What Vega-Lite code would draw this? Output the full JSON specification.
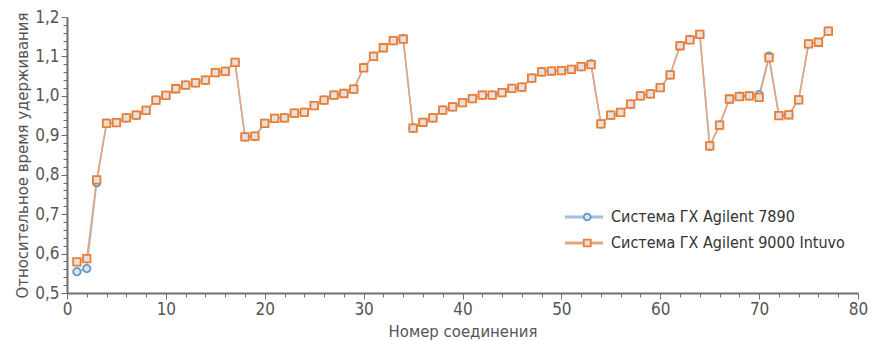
{
  "$schema": "https://vega.github.io/schema/vega-lite/v6.json",
  "width": 791,
  "height": 276,
  "autosize": {"type": "none"},
  "padding": {"left": 67, "top": 17, "right": 13, "bottom": 48},
  "background": "white",
  "config": {
    "view": {"stroke": null},
    "font": "Liberation Sans Narrow, DejaVu Sans Condensed, sans-serif",
    "axis": {
      "grid": false,
      "domainColor": "#6e6e6e",
      "domainWidth": 2,
      "tickColor": "#6e6e6e",
      "tickWidth": 1,
      "labelFont": "Liberation Sans Narrow, DejaVu Sans Condensed, sans-serif",
      "labelFontSize": 17,
      "labelColor": "#555555",
      "titleFont": "Liberation Sans Narrow, DejaVu Sans Condensed, sans-serif",
      "titleFontSize": 16.6,
      "titleFontWeight": "normal",
      "titleColor": "#555555"
    }
  },
  "data": {
    "values": [
      {"n": 1, "gc7890": 0.554, "intuvo": 0.579},
      {"n": 2, "gc7890": 0.562, "intuvo": 0.587},
      {"n": 3, "gc7890": 0.780, "intuvo": 0.787},
      {"n": 4, "gc7890": 0.931, "intuvo": 0.930},
      {"n": 5, "gc7890": 0.932, "intuvo": 0.932},
      {"n": 6, "gc7890": 0.944, "intuvo": 0.944},
      {"n": 7, "gc7890": 0.951, "intuvo": 0.951},
      {"n": 8, "gc7890": 0.963, "intuvo": 0.963},
      {"n": 9, "gc7890": 0.989, "intuvo": 0.989},
      {"n": 10, "gc7890": 1.001, "intuvo": 1.001},
      {"n": 11, "gc7890": 1.018, "intuvo": 1.018},
      {"n": 12, "gc7890": 1.027, "intuvo": 1.027},
      {"n": 13, "gc7890": 1.033, "intuvo": 1.033},
      {"n": 14, "gc7890": 1.040, "intuvo": 1.040},
      {"n": 15, "gc7890": 1.059, "intuvo": 1.059},
      {"n": 16, "gc7890": 1.062, "intuvo": 1.062},
      {"n": 17, "gc7890": 1.085, "intuvo": 1.085},
      {"n": 18, "gc7890": 0.896, "intuvo": 0.896},
      {"n": 19, "gc7890": 0.897, "intuvo": 0.898},
      {"n": 20, "gc7890": 0.930, "intuvo": 0.930},
      {"n": 21, "gc7890": 0.943, "intuvo": 0.943},
      {"n": 22, "gc7890": 0.944, "intuvo": 0.944},
      {"n": 23, "gc7890": 0.956, "intuvo": 0.956},
      {"n": 24, "gc7890": 0.958, "intuvo": 0.958},
      {"n": 25, "gc7890": 0.975, "intuvo": 0.975},
      {"n": 26, "gc7890": 0.989, "intuvo": 0.989},
      {"n": 27, "gc7890": 1.002, "intuvo": 1.002},
      {"n": 28, "gc7890": 1.006, "intuvo": 1.006},
      {"n": 29, "gc7890": 1.017, "intuvo": 1.017},
      {"n": 30, "gc7890": 1.072, "intuvo": 1.071},
      {"n": 31, "gc7890": 1.101, "intuvo": 1.100},
      {"n": 32, "gc7890": 1.122, "intuvo": 1.122},
      {"n": 33, "gc7890": 1.140, "intuvo": 1.140},
      {"n": 34, "gc7890": 1.145, "intuvo": 1.144},
      {"n": 35, "gc7890": 0.918, "intuvo": 0.918},
      {"n": 36, "gc7890": 0.933, "intuvo": 0.933},
      {"n": 37, "gc7890": 0.944, "intuvo": 0.944},
      {"n": 38, "gc7890": 0.964, "intuvo": 0.964},
      {"n": 39, "gc7890": 0.972, "intuvo": 0.972},
      {"n": 40, "gc7890": 0.983, "intuvo": 0.983},
      {"n": 41, "gc7890": 0.993, "intuvo": 0.993},
      {"n": 42, "gc7890": 1.002, "intuvo": 1.002},
      {"n": 43, "gc7890": 1.002, "intuvo": 1.002},
      {"n": 44, "gc7890": 1.008, "intuvo": 1.008},
      {"n": 45, "gc7890": 1.019, "intuvo": 1.019},
      {"n": 46, "gc7890": 1.022, "intuvo": 1.022},
      {"n": 47, "gc7890": 1.045, "intuvo": 1.045},
      {"n": 48, "gc7890": 1.061, "intuvo": 1.061},
      {"n": 49, "gc7890": 1.063, "intuvo": 1.063},
      {"n": 50, "gc7890": 1.064, "intuvo": 1.064},
      {"n": 51, "gc7890": 1.067, "intuvo": 1.067},
      {"n": 52, "gc7890": 1.074, "intuvo": 1.074},
      {"n": 53, "gc7890": 1.081, "intuvo": 1.079},
      {"n": 54, "gc7890": 0.929, "intuvo": 0.929},
      {"n": 55, "gc7890": 0.951, "intuvo": 0.951},
      {"n": 56, "gc7890": 0.958, "intuvo": 0.958},
      {"n": 57, "gc7890": 0.979, "intuvo": 0.979},
      {"n": 58, "gc7890": 1.000, "intuvo": 1.000},
      {"n": 59, "gc7890": 1.005, "intuvo": 1.005},
      {"n": 60, "gc7890": 1.021, "intuvo": 1.021},
      {"n": 61, "gc7890": 1.053, "intuvo": 1.053},
      {"n": 62, "gc7890": 1.127, "intuvo": 1.127},
      {"n": 63, "gc7890": 1.143, "intuvo": 1.142},
      {"n": 64, "gc7890": 1.156, "intuvo": 1.156},
      {"n": 65, "gc7890": 0.872, "intuvo": 0.873},
      {"n": 66, "gc7890": 0.926, "intuvo": 0.926},
      {"n": 67, "gc7890": 0.992, "intuvo": 0.992},
      {"n": 68, "gc7890": 0.999, "intuvo": 0.998},
      {"n": 69, "gc7890": 1.000, "intuvo": 1.000},
      {"n": 70, "gc7890": 1.003, "intuvo": 0.996},
      {"n": 71, "gc7890": 1.101, "intuvo": 1.097},
      {"n": 72, "gc7890": 0.950, "intuvo": 0.950},
      {"n": 73, "gc7890": 0.952, "intuvo": 0.952},
      {"n": 74, "gc7890": 0.990, "intuvo": 0.990},
      {"n": 75, "gc7890": 1.132, "intuvo": 1.132},
      {"n": 76, "gc7890": 1.135, "intuvo": 1.136},
      {"n": 77, "gc7890": 1.164, "intuvo": 1.164}
    ]
  },
  "transform": [
    {"fold": ["gc7890", "intuvo"], "as": ["series", "rrt"]}
  ],
  "encoding": {
    "x": {
      "field": "n",
      "type": "quantitative",
      "scale": {"domain": [0, 80], "nice": false},
      "axis": {
        "title": "Номер соединения",
        "titlePadding": 6,
        "values": [0, 2, 4, 6, 8, 10, 12, 14, 16, 18, 20, 22, 24, 26, 28, 30, 32, 34, 36, 38, 40, 42, 44, 46, 48, 50, 52, 54, 56, 58, 60, 62, 64, 66, 68, 70, 72, 74, 76, 78, 80],
        "labelExpr": "datum.value % 10 == 0 ? datum.label : ''",
        "tickSize": {"condition": {"test": "datum.value % 10 == 0", "value": 6}, "value": 4},
        "labelPadding": 2,
        "labelFlush": false,
        "labelOverlap": false
      }
    },
    "y": {
      "field": "rrt",
      "type": "quantitative",
      "scale": {"domain": [0.5, 1.2], "nice": false, "zero": false},
      "axis": {
        "title": "Относительное время удерживания",
        "titlePadding": 4,
        "values": [0.5, 0.52, 0.54, 0.56, 0.58, 0.6, 0.62, 0.64, 0.66, 0.68, 0.7, 0.72, 0.74, 0.76, 0.78, 0.8, 0.82, 0.84, 0.86, 0.88, 0.9, 0.92, 0.94, 0.96, 0.98, 1.0, 1.02, 1.04, 1.06, 1.08, 1.1, 1.12, 1.14, 1.16, 1.18, 1.2],
        "labelExpr": "abs(datum.value * 10 - round(datum.value * 10)) < 0.001 ? replace(format(datum.value, '.1f'), '.', ',') : ''",
        "tickSize": {"condition": {"test": "abs(datum.value * 10 - round(datum.value * 10)) < 0.001", "value": 6}, "value": 4},
        "labelPadding": 2,
        "labelFlush": false,
        "labelOverlap": false
      }
    }
  },
  "layer": [
    {
      "mark": {"type": "line", "strokeWidth": 1.6},
      "encoding": {
        "color": {
          "field": "series",
          "type": "nominal",
          "scale": {"domain": ["gc7890", "intuvo"], "range": ["#9fbfe6", "#e6a47c"]},
          "legend": {
            "title": null,
            "orient": "none",
            "legendX": 496.5,
            "legendY": 192,
            "padding": 0,
            "symbolType": "stroke",
            "symbolSize": 1444,
            "symbolStrokeWidth": 3,
            "clipHeight": 16,
            "rowPadding": 10,
            "labelOffset": 6.5,
            "labelLimit": 400,
            "labelFont": "Liberation Sans Narrow, DejaVu Sans Condensed, sans-serif",
            "labelFontSize": 16,
            "labelColor": "#333333",
            "labelExpr": "datum.value == 'gc7890' ? 'Система ГХ Agilent 7890' : 'Система ГХ Agilent 9000 Intuvo'"
          }
        }
      }
    },
    {
      "mark": {"type": "point", "filled": true, "fill": "#e2e2e2", "strokeWidth": 1.8, "size": 56, "opacity": 1},
      "encoding": {
        "stroke": {
          "field": "series",
          "type": "nominal",
          "scale": {"range": ["#5b9bd5", "#ed7d31"]},
          "legend": {
            "title": null,
            "orient": "none",
            "legendX": 496.5,
            "legendY": 192,
            "padding": 0,
            "symbolSize": 48,
            "symbolStrokeWidth": 1.8,
            "symbolOffset": 15.75,
            "clipHeight": 16,
            "rowPadding": 10,
            "labelExpr": "''",
            "labelFontSize": 16,
            "labelFont": "Liberation Sans Narrow, DejaVu Sans Condensed, sans-serif"
          }
        },
        "shape": {
          "field": "series",
          "type": "nominal",
          "scale": {"range": ["circle", "square"]},
          "legend": {
            "title": null,
            "orient": "none",
            "legendX": 496.5,
            "legendY": 192,
            "padding": 0,
            "symbolSize": 48,
            "symbolStrokeWidth": 1.8,
            "symbolOffset": 15.75,
            "clipHeight": 16,
            "rowPadding": 10,
            "labelExpr": "''",
            "labelFontSize": 16,
            "labelFont": "Liberation Sans Narrow, DejaVu Sans Condensed, sans-serif"
          }
        }
      }
    }
  ]
}
